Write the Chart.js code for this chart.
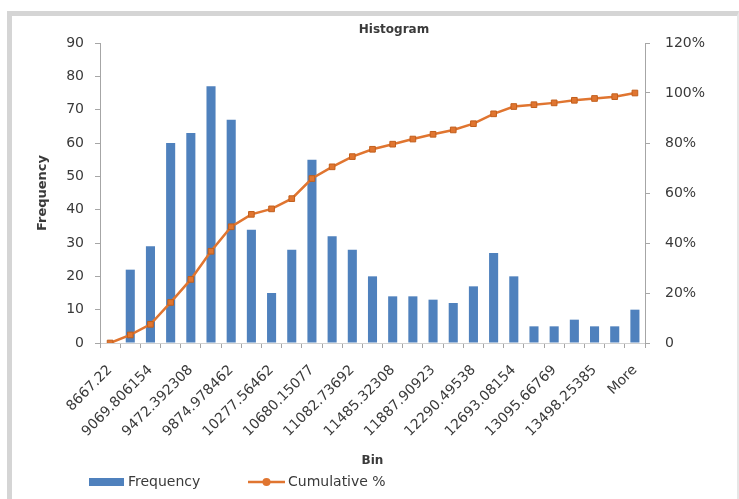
<!DOCTYPE html>
<html>
<head>
<meta charset="utf-8">
<title>Histogram</title>
<script src="https://cdn.jsdelivr.net/npm/chart.js@4.4.1/dist/chart.umd.min.js"></script>
<style>
    html, body { margin: 0; padding: 0; background: #fff; }
    body { width: 739px; height: 499px; position: relative; overflow: hidden; }
    #histogram { position: absolute; left: 0; top: 0; }
    .chart-frame {
        position: absolute; left: 7px; top: 11px; width: 732px; height: 488px;
        box-sizing: border-box; pointer-events: none;
        border-top: 5px solid #d5d5d5; border-left: 5px solid #d5d5d5; border-right: 2px solid #e6e6e6;
    }
</style>
</head>
<body>
<canvas id="histogram" width="739" height="499"></canvas>
<div class="chart-frame"></div>
<script>
// bin upper bounds as printed by the Analysis ToolPak
const binLabels = [
    '8667.22', '8868.513077', '9069.806154', '9271.099231', '9472.392308', '9673.685385',
    '9874.978462', '10076.27154', '10277.56462', '10478.85769', '10680.15077', '10881.44385',
    '11082.73692', '11284.03', '11485.32308', '11686.61615', '11887.90923', '12089.20231',
    '12290.49538', '12491.78846', '12693.08154', '12894.37462', '13095.66769', '13296.96077',
    '13498.25385', '13699.54692', 'More'
];
const frequency = [
    0, 22, 29, 60, 63, 77, 67, 34, 15, 28, 55, 32, 28, 20,
    14, 14, 13, 12, 17, 27, 20, 5, 5, 7, 5, 5, 10
];
const cumulativePct = [
    0, 3.22, 7.46, 16.23, 25.44, 36.70, 46.49, 51.46, 53.65, 57.75, 65.79, 70.47, 74.56, 77.49,
    79.53, 81.58, 83.48, 85.23, 87.72, 91.67, 94.59, 95.32, 96.05, 97.08, 97.81, 98.54, 100
];

const BLUE = '#4f81bd';
const ORANGE = '#e07530';
const TEXT = '#3a3a3a';
const AXIS = '#a6a6a6';
const FONT = '"DejaVu Sans", sans-serif';

// title and legend are placed like Excel does, so draw them by hand
const excelDecor = {
    id: 'excelDecor',
    afterDraw(chart) {
        const ctx = chart.ctx;
        ctx.save();
        ctx.fillStyle = TEXT;
        ctx.textBaseline = 'middle';
        ctx.font = 'bold 12px ' + FONT;
        ctx.textAlign = 'center';
        ctx.fillText('Histogram', 394, 30);

        const y = 482;
        ctx.font = '14px ' + FONT;
        ctx.textAlign = 'left';
        ctx.fillStyle = BLUE;
        ctx.fillRect(89, y - 4, 35, 8);
        ctx.fillStyle = TEXT;
        ctx.fillText('Frequency', 128, y);

        ctx.strokeStyle = ORANGE;
        ctx.lineWidth = 2.5;
        ctx.beginPath();
        ctx.moveTo(248, y);
        ctx.lineTo(285, y);
        ctx.stroke();
        ctx.fillStyle = ORANGE;
        ctx.beginPath();
        ctx.arc(266.5, y, 4, 0, Math.PI * 2);
        ctx.fill();
        ctx.fillStyle = TEXT;
        ctx.fillText('Cumulative %', 288, y);
        ctx.restore();
    }
};

new Chart(document.getElementById('histogram'), {
    data: {
        labels: binLabels,
        datasets: [{
            type: 'line',
            label: 'Cumulative %',
            data: cumulativePct,
            yAxisID: 'yPct',
            order: 0,
            borderColor: ORANGE,
            borderWidth: 2.5,
            pointStyle: 'rect',
            pointRadius: 4,
            pointBackgroundColor: ORANGE,
            pointBorderColor: '#c25f1c',
            pointBorderWidth: 1,
            tension: 0
        }, {
            type: 'bar',
            label: 'Frequency',
            data: frequency,
            yAxisID: 'y',
            order: 1,
            backgroundColor: BLUE,
            barPercentage: 0.45,
            categoryPercentage: 1
        }]
    },
    options: {
        responsive: false,
        animation: false,
        layout: { padding: { top: 43, left: 0, right: 0, bottom: 0 } },
        plugins: {
            legend: { display: false },
            title: { display: false },
            tooltip: { enabled: false }
        },
        scales: {
            x: {
                offset: true,
                afterFit: scale => { scale.height = 156; },
                grid: { drawOnChartArea: false, offset: true, tickLength: 5, color: AXIS },
                border: { color: '#d0d0d0' },
                ticks: {
                    autoSkip: false,
                    minRotation: 45,
                    maxRotation: 45,
                    padding: 14,
                    color: TEXT,
                    font: { family: FONT, size: 14 },
                    callback: (val, i) => (i % 2 === 0 ? binLabels[i] : '')
                },
                title: {
                    display: true,
                    text: 'Bin',
                    color: TEXT,
                    font: { family: FONT, size: 12, weight: 'bold' },
                    padding: { top: 0, bottom: 31 }
                }
            },
            y: {
                position: 'left',
                min: 0,
                max: 90,
                afterFit: scale => { scale.width = 100; },
                grid: { drawOnChartArea: false, tickLength: 5, color: AXIS },
                border: { color: AXIS },
                ticks: {
                    stepSize: 10,
                    padding: 11,
                    color: TEXT,
                    font: { family: FONT, size: 14 }
                },
                title: {
                    display: true,
                    text: 'Frequency',
                    color: TEXT,
                    font: { family: FONT, size: 13, weight: 'bold' },
                    padding: { top: 35, bottom: 0 }
                }
            },
            yPct: {
                position: 'right',
                min: 0,
                max: 120,
                afterFit: scale => { scale.width = 94; },
                grid: { drawOnChartArea: false, tickLength: 5, color: AXIS },
                border: { color: AXIS },
                ticks: {
                    stepSize: 20,
                    padding: 15,
                    color: TEXT,
                    font: { family: FONT, size: 14 },
                    callback: v => (v === 0 ? '0' : v + '%')
                }
            }
        }
    },
    plugins: [excelDecor]
});
</script>
</body>
</html>
